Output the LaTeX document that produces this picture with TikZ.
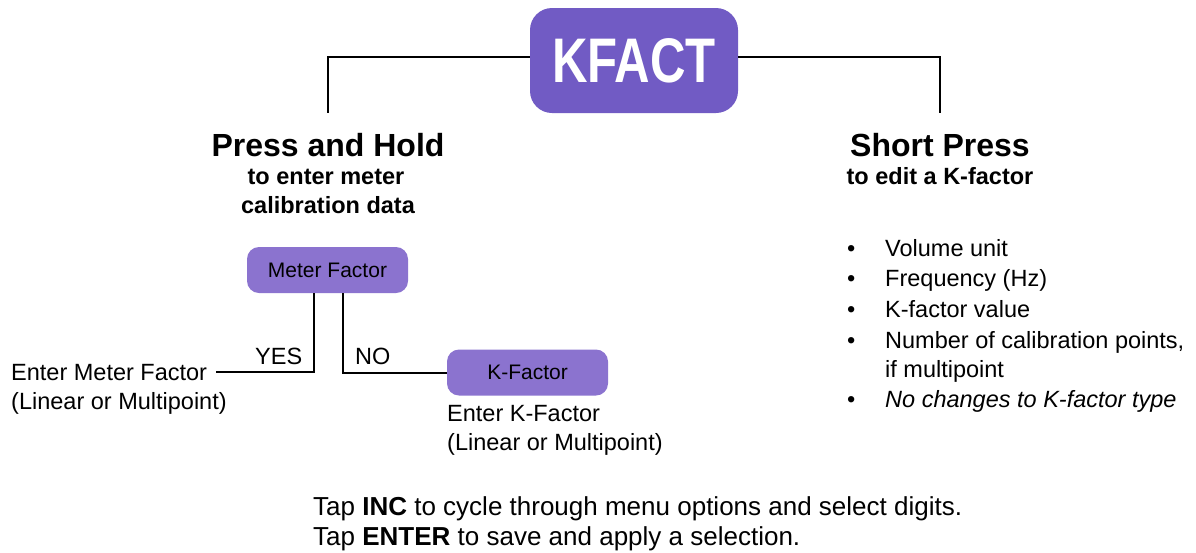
\documentclass[tikz,border=0pt]{standalone}
\usepackage{fontspec}
\setmainfont{Liberation Sans}
\newfontfamily\narrowfont[FakeStretch=0.78]{Liberation Sans}
\definecolor{kfactpurple}{RGB}{113,91,196}
\definecolor{menupurple}{RGB}{139,115,207}
\tikzset{
  topbox/.style={fill=kfactpurple, rounded corners=22pt, minimum width=208pt,
    minimum height=105pt, text=white, font=\narrowfont\bfseries\fontsize{63}{63}\selectfont},
  menubox/.style={fill=menupurple, rounded corners=12pt, minimum width=161pt,
    minimum height=46pt, font=\fontsize{21}{25}\selectfont},
  title/.style={inner sep=0pt, anchor=base, font=\bfseries\fontsize{32}{36}\selectfont},
  subtitle/.style={inner sep=0pt, anchor=base, font=\bfseries\fontsize{23.5}{28}\selectfont},
  body/.style={inner sep=0pt, anchor=base west, font=\fontsize{23.5}{28}\selectfont},
  hint/.style={body, font=\fontsize{26}{30}\selectfont},
  link/.style={line width=2pt},
}
\begin{document}
\begin{tikzpicture}[x=1pt, y=-1pt]
    \useasboundingbox (0,0) rectangle (1196,552);
    % top key and the two ways of pressing it
    \node[topbox] (kfact) at (634,60.5) {KFACT};
    \coordinate (holdtop) at (328,113);
    \coordinate (shorttop) at (940,113);
    \draw[link] ([yshift=3.5pt]kfact.west) -| (holdtop);
    \draw[link] ([yshift=3.5pt]kfact.east) -| (shorttop);

    \node[title] (hold) at (328,156.5) {Press and Hold};
    \node[subtitle] (holdsuba) at (326,184) {to enter meter};
    \node[subtitle] (holdsubb) at (328,213) {calibration data};
    \node[title] (short) at (940,156.5) {Short Press};
    \node[subtitle] (shortsub) at (940,184) {to edit a K-factor};

    % press and hold branch
    \node[menubox] (meter) at (327.5,270) {Meter Factor};
    \node[menubox] (kfactor) at (527.5,372.5) {K-Factor};
    \node[body] (entermeter) at (11,380) {Enter Meter Factor};
    \node[body] (entermeterb) at (11,409) {(Linear or Multipoint)};
    \node[body] (enterk) at (447,421) {Enter K-Factor};
    \node[body] (enterkb) at (447,450) {(Linear or Multipoint)};
    \node[body] (yes) at (255,364) {YES};
    \node[body] (no) at (355,364) {NO};
    \draw[link] ([xshift=-13.5pt]meter.south) |- ([xshift=9pt]entermeter.east);
    \draw[link] ([xshift=15.5pt]meter.south) |- (kfactor.west);

    % short press list
    \node[body] (bulleta) at (847,256) {\textbullet};
    \node[body] (itema) at (885,256) {Volume unit};
    \node[body] (bulletb) at (847,286) {\textbullet};
    \node[body] (itemb) at (885,286) {Frequency (Hz)};
    \node[body] (bulletc) at (847,317) {\textbullet};
    \node[body] (itemc) at (885,317) {K-factor value};
    \node[body] (bulletd) at (847,348) {\textbullet};
    \node[body] (itemd) at (885,348) {Number of calibration points,};
    \node[body] (itemdb) at (885,377) {if multipoint};
    \node[body] (bullete) at (847,407) {\textbullet};
    \node[body] (iteme) at (885,407) {\itshape No changes to K-factor type};

    % tap hints
    \node[hint] (tapinc) at (313,515) {Tap \textbf{INC} to cycle through menu options and select digits.};
    \node[hint] (tapenter) at (313,545) {Tap \textbf{ENTER} to save and apply a selection.};
\end{tikzpicture}
\end{document}
